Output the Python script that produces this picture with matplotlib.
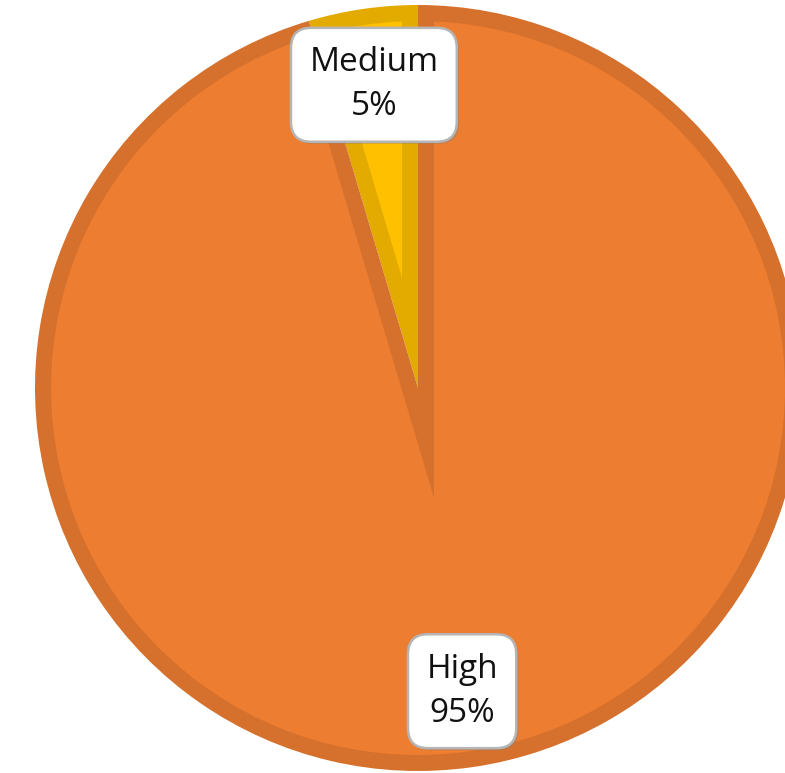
import numpy as np
import matplotlib
matplotlib.use('Agg')
import matplotlib.pyplot as plt
import matplotlib.patheffects as pe
from matplotlib.patches import Wedge, Circle

# slice data (Medium sits just left of 12 o'clock)
categories = ['Medium', 'High']
shares = [4.6, 95.4]
fill_colors = ['#FFC000', '#ED7D31']
edge_colors = ['#E3AA00', '#D5712C']

W, H = 785, 773
fig = plt.figure(figsize=(W / 100, H / 100), dpi=100)
ax = fig.add_axes([0, 0, 1, 1])

cx, cy, r = 418, H - 388, 383
band = 16  # inner border width, px

wedges, texts, autotexts = ax.pie(shares, startangle=90, counterclock=True,
                                  center=(cx, cy), radius=r, colors=edge_colors,
                                  autopct='%.0f%%', pctdistance=0.8,
                                  wedgeprops=dict(linewidth=0))

# inner border: draw a lighter copy of each wedge, shrunk inward by `band`
clip_circle = Circle((cx, cy), r - band, transform=ax.transData)
for w, fc in zip(wedges, fill_colors):
    t1, t2 = w.theta1, w.theta2
    half = np.radians(t2 - t1) / 2
    mid = np.radians((t1 + t2) / 2)
    d = band / np.sin(half)
    inner = Wedge((cx + d * np.cos(mid), cy + d * np.sin(mid)), r + d, t1, t2,
                  facecolor=fc, linewidth=0)
    ax.add_patch(inner)
    inner.set_clip_path(clip_circle)

for t, name, v in zip(autotexts, categories, shares):
    t.set_text(f'{name}\n{v:.0f}%')
    t.set(fontsize=24, family='Open Sans', color='#111111', ha='center',
          va='center', linespacing=1.45, multialignment='center', zorder=5)
    t.set_bbox(dict(boxstyle='round,pad=0.55,rounding_size=0.6',
                    fc='white', ec='#B5B5B5', lw=1.8))
    t.get_bbox_patch().set_path_effects([
        pe.SimplePatchShadow(offset=(1.5, -1.5), shadow_rgbFace='gray', alpha=0.4),
        pe.Normal()])

ax.set_xlim(0, W)
ax.set_ylim(0, H)
ax.axis('off')

fig.savefig('out.png', dpi=100)
